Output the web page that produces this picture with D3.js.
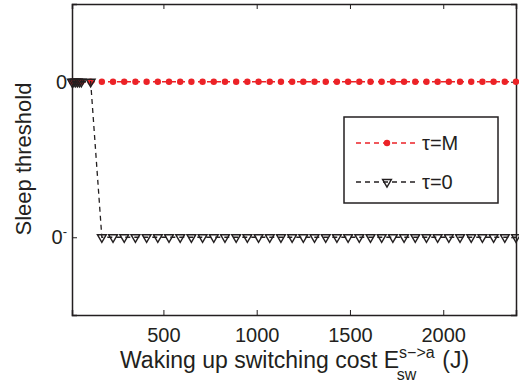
<!DOCTYPE html>
<html>
<head>
<meta charset="utf-8">
<script src="https://cdn.jsdelivr.net/npm/d3@7"></script>
<style>
  body { margin: 0; background: #fff; }
  text { font-family: "Liberation Sans", Arial, sans-serif; fill: #231f20; }
</style>
</head>
<body>
<div id="chart"></div>
<script>
// switching cost values (J)
const costs = [10, 20, 30, 40, 50, 60, 110, 170, 230, 290, 350, 410, 470, 530, 590, 650,
  710, 770, 830, 890, 950, 1010, 1070, 1130, 1190, 1250, 1310, 1370, 1430, 1490,
  1550, 1610, 1670, 1730, 1790, 1850, 1910, 1970, 2030, 2090, 2150, 2210, 2270,
  2330, 2390];
// 1 = "0", 0 = "0-"
const tauM = costs.map(() => 1);
const tau0 = [1, 1, 1, 1, 1, 1, 1, 0, 0, 0, 0, 0, 0, 0, 0, 0, 0, 0, 0, 0, 0, 0, 0, 0,
  0, 0, 0, 0, 0, 0, 0, 0, 0, 0, 0, 0, 0, 0, 0, 0, 0, 0, 0, 0, 0];
const xTicks = [500, 1000, 1500, 2000];
const yTicks = [0, 1];
const yTickLabels = ["0", "0"];

const svgWidth = 519, svgHeight = 385;
const margin = { top: 4, right: 3, bottom: 70, left: 72 };
const width = svgWidth - margin.left - margin.right;
const height = svgHeight - margin.top - margin.bottom;
const red = "#ec2227", dark = "#231f20";

const svg = d3.select("#chart").append("svg")
    .attr("width", svgWidth)
    .attr("height", svgHeight);

const g = svg.append("g")
    .attr("transform", `translate(${margin.left},${margin.top})`);

const x = d3.scaleLinear().domain([10, 2390]).range([0, width]);
const y = d3.scaleLinear().domain([-0.5, 1.5]).range([height, 0]);

// axes (ticks inward, box)
const xAxis = g.append("g")
    .attr("transform", `translate(0,${height})`)
    .call(d3.axisBottom(x).tickValues(xTicks).tickSize(-5).tickPadding(13).tickFormat(d3.format("d")));
const xTop = g.append("g")
    .call(d3.axisTop(x).tickValues(xTicks).tickSize(-5).tickFormat(""));
const yAxis = g.append("g")
    .call(d3.axisLeft(y).tickValues(yTicks).tickSize(-5).tickPadding(5)
      .tickFormat((d, i) => yTickLabels[i]));
const yRight = g.append("g")
    .attr("transform", `translate(${width},0)`)
    .call(d3.axisRight(y).tickValues(yTicks).tickSize(-5).tickFormat(""));

[xAxis, xTop, yAxis, yRight].forEach(a => {
  a.select(".domain").attr("stroke", dark).attr("stroke-width", 1.5);
  a.selectAll(".tick line").attr("stroke", dark).attr("stroke-width", 1);
  a.selectAll("text").attr("font-size", 20).attr("fill", dark);
});
// superscript minus on the "0-" tick
yAxis.selectAll(".tick text").filter(d => d === 0)
    .append("tspan").attr("dy", -8).attr("font-size", 13).text("-");

// series
const line = d3.line().x(d => x(d[0])).y(d => y(d[1]));
const mData = costs.map((c, i) => [c, tauM[i]]);
const zData = costs.map((c, i) => [c, tau0[i]]);

const tri = d3.symbol().type(d3.symbolTriangle).size(34);

g.append("path").datum(mData)
    .attr("d", line).attr("fill", "none")
    .attr("stroke", red).attr("stroke-width", 1.3).attr("stroke-dasharray", "5,4");
g.selectAll(".dotM").data(mData).enter().append("circle")
    .attr("cx", d => x(d[0])).attr("cy", d => y(d[1])).attr("r", 3.2)
    .attr("fill", red);

g.append("path").datum(zData)
    .attr("d", line).attr("fill", "none")
    .attr("stroke", dark).attr("stroke-width", 1.3).attr("stroke-dasharray", "5,4");
g.selectAll(".triZ").data(zData).enter().append("path")
    .attr("d", tri)
    .attr("transform", d => `translate(${x(d[0])},${y(d[1])}) rotate(180)`)
    .attr("fill", "none").attr("stroke", dark).attr("stroke-width", 1.4);

// legend
const lg = g.append("g").attr("transform", "translate(272,113)");
lg.append("rect").attr("width", 154).attr("height", 86)
    .attr("fill", "#fff").attr("stroke", dark).attr("stroke-width", 1.5);
const items = [
  { label: "τ=M", color: red, mark: "dot" },
  { label: "τ=0", color: dark, mark: "tri" }
];
items.forEach((it, i) => {
  const yy = 26 + i * 39;
  lg.append("line").attr("x1", 12).attr("x2", 73).attr("y1", yy).attr("y2", yy)
      .attr("stroke", it.color).attr("stroke-width", 1.3).attr("stroke-dasharray", "5,4");
  if (it.mark === "dot") {
    lg.append("circle").attr("cx", 43).attr("cy", yy).attr("r", 3.2).attr("fill", it.color);
  } else {
    lg.append("path").attr("d", tri)
        .attr("transform", `translate(43,${yy}) rotate(180)`)
        .attr("fill", "none").attr("stroke", dark).attr("stroke-width", 1.4);
  }
  lg.append("text").attr("x", 78).attr("y", yy).attr("dy", "0.36em")
      .attr("font-size", 20).text(it.label);
});

// axis labels
const xl = svg.append("text")
    .attr("x", 120).attr("y", 368)
    .attr("text-anchor", "start").attr("font-size", 23);
xl.append("tspan").text("Waking up switching cost E");
xl.append("tspan").attr("font-size", 16).attr("dy", -10).text("s−>a");
xl.append("tspan").attr("font-size", 16).attr("dx", -38).attr("dy", 22).text("sw");
xl.append("tspan").attr("dx", 26).attr("dy", -12).text("(J)");

svg.append("text")
    .attr("transform", "translate(31,159) rotate(-90)")
    .attr("text-anchor", "middle").attr("font-size", 22)
    .text("Sleep threshold");
</script>
</body>
</html>
